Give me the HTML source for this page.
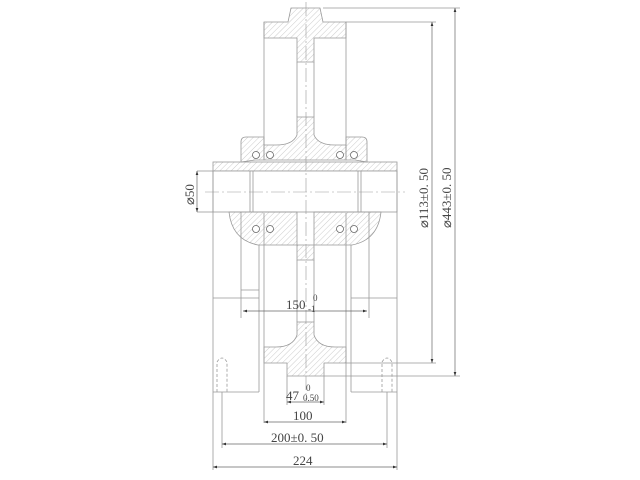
<!DOCTYPE html>
<html><head><style>body{margin:0;background:#fff}svg{display:block}</style></head><body>
<svg width="640" height="480" viewBox="0 0 640 480" xmlns="http://www.w3.org/2000/svg" font-family="Liberation Serif, serif">
<defs>
<pattern id="h" width="4" height="4" patternUnits="userSpaceOnUse" patternTransform="rotate(45)">
<line x1="0" y1="0" x2="0" y2="4" stroke="#aaa" stroke-width="0.6"/></pattern>
<marker id="a" markerWidth="6" markerHeight="4" refX="6" refY="2" orient="auto-start-reverse"><path d="M0,0L6,2L0,4z" fill="#333"/></marker>
</defs>
<g stroke="#999" stroke-width="0.8" fill="none">
<path d="M291,8H320L323,22H346V38H314V62H297V38H264V22H288Z" fill="url(#h)"/>
<path d="M297,117H314V135Q318,145 335,145H346V160H264V145H276Q293,145 297,135Z" fill="url(#h)"/>
<line x1="264" y1="22" x2="264" y2="150"/><line x1="346" y1="22" x2="346" y2="150"/>
<line x1="297" y1="62" x2="297" y2="117"/><line x1="314" y1="62" x2="314" y2="117"/>
<path d="M241,162V142Q241,137 246,137H264V160H255Z" fill="url(#h)"/>
<path d="M367,162V142Q367,137 362,137H346V160H355Z" fill="url(#h)"/>
<rect x="213" y="162" width="184" height="9" fill="url(#h)"/>
<rect x="213" y="171" width="184" height="41" fill="#fff"/>
<line x1="250" y1="171" x2="250" y2="212"/><line x1="253" y1="171" x2="253" y2="212"/>
<line x1="358" y1="171" x2="358" y2="212"/><line x1="361" y1="171" x2="361" y2="212"/>
<path d="M229,212Q232,240 258,245H297V212Z" fill="url(#h)"/>
<path d="M381,212Q378,240 352,245H314V212Z" fill="url(#h)"/>
<g fill="#fff" stroke="#666">
<circle cx="256" cy="155" r="3.5"/><circle cx="270" cy="155" r="3.5"/>
<circle cx="340" cy="155" r="3.5"/><circle cx="354" cy="155" r="3.5"/>
<circle cx="256" cy="229" r="3.5"/><circle cx="270" cy="229" r="3.5"/>
<circle cx="340" cy="229" r="3.5"/><circle cx="354" cy="229" r="3.5"/>
</g>
<path d="M297,245H314V260H297Z" fill="url(#h)"/>
<path d="M297,322H314V335Q318,347 335,347H346V363H324V376H287V363H264V347H276Q293,347 297,335Z" fill="url(#h)"/>
<line x1="297" y1="260" x2="297" y2="322"/><line x1="314" y1="260" x2="314" y2="322"/>
<line x1="264" y1="213" x2="264" y2="423"/><line x1="346" y1="213" x2="346" y2="423"/>
<line x1="213" y1="171" x2="213" y2="470"/><line x1="397" y1="171" x2="397" y2="470"/>
<line x1="241" y1="212" x2="241" y2="318"/><line x1="259" y1="245" x2="259" y2="392"/>
<line x1="241" y1="290" x2="259" y2="290"/>
<line x1="369" y1="212" x2="369" y2="318"/><line x1="351" y1="245" x2="351" y2="392"/>
<line x1="213" y1="298" x2="259" y2="298"/><line x1="351" y1="298" x2="397" y2="298"/>
<line x1="213" y1="392" x2="259" y2="392"/><line x1="351" y1="392" x2="397" y2="392"/>
<path d="M217,392V362Q222,354 227,362V392" stroke-dasharray="3,2"/>
<path d="M382,392V362Q387,354 392,362V392" stroke-dasharray="3,2"/>
<line x1="222" y1="392" x2="222" y2="448"/><line x1="387" y1="392" x2="387" y2="448"/>
<line x1="287" y1="376" x2="287" y2="405"/><line x1="324" y1="376" x2="324" y2="405"/>
<line x1="323" y1="8" x2="460" y2="8"/><line x1="346" y1="22" x2="436" y2="22"/>
<line x1="346" y1="363" x2="436" y2="363"/><line x1="324" y1="376" x2="460" y2="376"/>
<line x1="197" y1="171" x2="213" y2="171"/><line x1="197" y1="212" x2="213" y2="212"/>
</g>
<g stroke="#999" stroke-width="0.6" stroke-dasharray="14,3,2,3">
<line x1="306" y1="2" x2="306" y2="400"/>
<line x1="205" y1="192" x2="405" y2="192"/>
</g>
<g stroke="#666" stroke-width="0.7" marker-start="url(#a)" marker-end="url(#a)">
<line x1="432" y1="22" x2="432" y2="363"/>
<line x1="455" y1="8" x2="455" y2="376"/>
<line x1="197" y1="171" x2="197" y2="212"/>
<line x1="243" y1="311" x2="367" y2="311"/>
<line x1="287" y1="402" x2="324" y2="402"/>
<line x1="264" y1="422" x2="346" y2="422"/>
<line x1="222" y1="444" x2="387" y2="444"/>
<line x1="213" y1="467" x2="397" y2="467"/>
</g>
<g fill="#444" font-size="13">
<text x="286" y="309">150</text><text x="308" y="312" font-size="9">-1</text><text x="313" y="301" font-size="9">0</text>
<text x="286" y="400">47</text><text x="306" y="391" font-size="9">0</text><text x="303" y="401" font-size="9">0.50</text>
<text x="293" y="420">100</text>
<text x="271" y="442">200±0. 50</text>
<text x="293" y="465">224</text>
<text transform="translate(194,205) rotate(-90)">⌀50</text>
<text transform="translate(428,228) rotate(-90)">⌀113±0. 50</text>
<text transform="translate(451,228) rotate(-90)">⌀443±0. 50</text>
</g>
</svg>
</body></html>
